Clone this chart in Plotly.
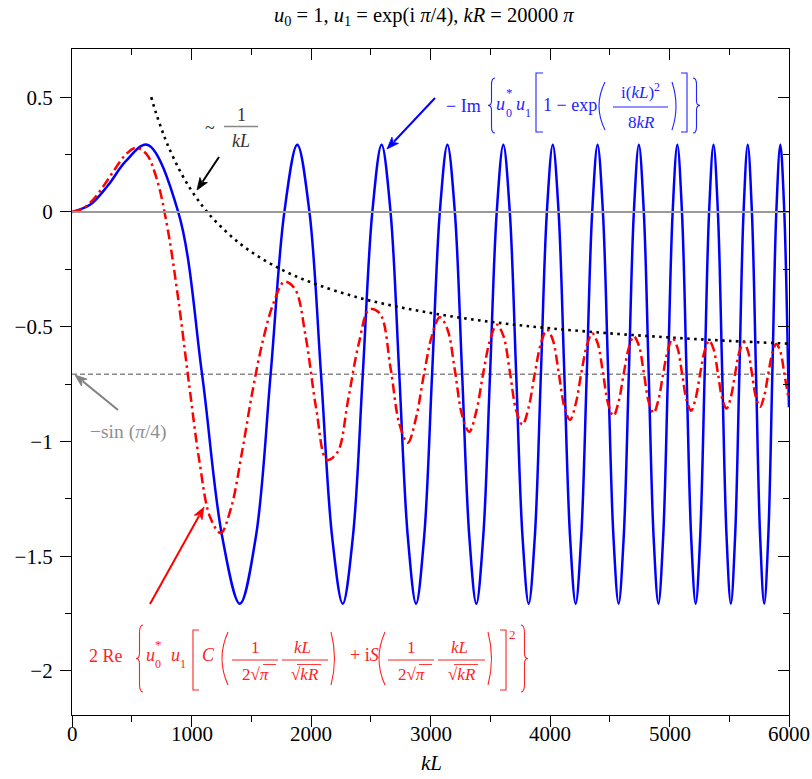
import math
import plotly.graph_objects as go

# ---------------- data ----------------
blue_x = [0, 150, 300, 450, 628.3, 888.6, 1088.3, 1256.6, 1404.9, 1539.0, 1662.3, 1777.1,
          1884.9, 1986.9, 2083.8, 2176.5, 2265.4, 2350.9, 2433.4, 2513.2,
          2590.6, 2665.7, 2738.7, 2809.9, 2879.3, 2947.1, 3013.3, 3078.1,
          3141.5, 3203.8, 3264.8, 3324.7, 3383.6, 3441.4, 3498.3, 3554.3,
          3609.4, 3663.6, 3717.1, 3769.8, 3821.8, 3873.1, 3923.8, 3973.8,
          4023.2, 4071.9, 4120.1, 4167.7, 4214.8, 4261.4, 4307.5, 4353.1,
          4398.1, 4442.8, 4487.0, 4530.8, 4574.2, 4617.1, 4659.6, 4701.8,
          4743.6, 4785.0, 4826.1, 4866.8, 4907.2, 4947.2, 4987.0, 5026.4,
          5065.5, 5104.3, 5142.9, 5181.1, 5219.1, 5256.8, 5294.2, 5331.3,
          5368.2, 5404.9, 5441.3, 5477.4, 5513.3, 5549.0, 5584.5, 5619.7,
          5654.7, 5689.5, 5724.1, 5758.4, 5792.6, 5826.6, 5860.4, 5893.9,
          5927.4, 5960.6, 5993.6, 6000]
blue_y = [0, 0.031, 0.115, 0.221, 0.293, 0, -0.707, -1.414, -1.707, -1.414, -0.707, 0,
          0.293, 0, -0.707, -1.414, -1.707, -1.414, -0.707, 0,
          0.293, 0, -0.707, -1.414, -1.707, -1.414, -0.707, 0,
          0.293, 0, -0.707, -1.414, -1.707, -1.414, -0.707, 0,
          0.293, 0, -0.707, -1.414, -1.707, -1.414, -0.707, 0,
          0.293, 0, -0.707, -1.414, -1.707, -1.414, -0.707, 0,
          0.293, 0, -0.707, -1.414, -1.707, -1.414, -0.707, 0,
          0.293, 0, -0.707, -1.414, -1.707, -1.414, -0.707, 0,
          0.293, 0, -0.707, -1.414, -1.707, -1.414, -0.707, 0,
          0.293, 0, -0.707, -1.414, -1.707, -1.414, -0.707, 0,
          0.293, 0, -0.707, -1.414, -1.707, -1.414, -0.707, 0,
          0.293, 0, -0.707, -0.851]

red_x = [0, 88.9, 177.7, 266.6, 355.4, 444.3, 533.2, 622.0, 710.9, 799.7, 888.6,
         977.5, 1066.3, 1155.2, 1244.0, 1332.9, 1421.8, 1510.6, 1599.5, 1688.3,
         1777.2, 1866.1, 1954.9, 2043.8, 2132.6, 2221.5, 2310.4, 2399.2, 2488.1,
         2576.9, 2665.8,
         2738.7, 2809.9, 2879.3, 2947.1, 3013.3, 3078.1,
         3141.5, 3203.8, 3264.8, 3324.7, 3383.6, 3441.4, 3498.3, 3554.3,
         3609.4, 3663.6, 3717.1, 3769.8, 3821.8, 3873.1, 3923.8, 3973.8,
         4023.2, 4071.9, 4120.1, 4167.7, 4214.8, 4261.4, 4307.5, 4353.1,
         4398.1, 4442.8, 4487.0, 4530.8, 4574.2, 4617.1, 4659.6, 4701.8,
         4743.6, 4785.0, 4826.1, 4866.8, 4907.2, 4947.2, 4987.0, 5026.4,
         5065.5, 5104.3, 5142.9, 5181.1, 5219.1, 5256.8, 5294.2, 5331.3,
         5368.2, 5404.9, 5441.3, 5477.4, 5513.3, 5549.0, 5584.5, 5619.7,
         5654.7, 5689.5, 5724.1, 5758.4, 5792.6, 5826.6, 5860.4, 5893.9,
         5927.4, 5960.6, 5993.6, 6000]
red_y = [0, 0.014, 0.054, 0.115, 0.184, 0.247, 0.279, 0.253, 0.141, -0.071, -0.378,
         -0.741, -1.087, -1.329, -1.399, -1.286, -1.049, -0.781, -0.556, -0.394,
         -0.304, -0.336, -0.541, -0.858, -1.080, -1.047, -0.819, -0.575, -0.425,
         -0.443, -0.680,
         -0.922, -1.006, -0.896, -0.702, -0.537, -0.459,
         -0.511, -0.690, -0.887, -0.958, -0.868, -0.702, -0.558, -0.491,
         -0.539, -0.695, -0.865, -0.927, -0.850, -0.703, -0.573, -0.513,
         -0.557, -0.697, -0.849, -0.906, -0.837, -0.704, -0.584, -0.529,
         -0.571, -0.699, -0.837, -0.889, -0.827, -0.704, -0.592, -0.542,
         -0.582, -0.700, -0.828, -0.876, -0.819, -0.704, -0.600, -0.552,
         -0.590, -0.701, -0.820, -0.866, -0.812, -0.704, -0.605, -0.561,
         -0.597, -0.702, -0.814, -0.857, -0.807, -0.705, -0.610, -0.568,
         -0.603, -0.703, -0.809, -0.849, -0.802, -0.705, -0.615, -0.575,
         -0.608, -0.703, -0.804, -0.818]

env_x = [663, 700, 750, 800, 900, 1000, 1100, 1200, 1400, 1600, 1800, 2000,
         2400, 2800, 3200, 3600, 4000, 4500, 5000, 5500, 6000]
env_y = [0.500, 0.436, 0.360, 0.293, 0.182, 0.093, 0.020, -0.040, -0.136, -0.207,
         -0.263, -0.307, -0.374, -0.421, -0.457, -0.485, -0.507, -0.529, -0.547,
         -0.562, -0.574]

ref_x = [0, 6000]
zero_y = [0, 0]
sin_y = [-0.7071, -0.7071]

x_ticks = [0, 1000, 2000, 3000, 4000, 5000, 6000]
x_ticktext = ["0", "1000", "2000", "3000", "4000", "5000", "6000"]
y_ticks = [-2, -1.5, -1, -0.5, 0, 0.5]
y_ticktext = ["\u22122", "\u22121.5", "\u22121", "\u22120.5", "0", "0.5"]

# ---------------- figure ----------------
SERIF = "Liberation Serif, Times New Roman, serif"
W, H = 812, 779
L, R, T, B = 72, 789, 49, 715  # plot frame in pixels
X_RANGE = [0, 6000]
Y_RANGE = [-2.192, 0.71]

BLUE = "#0000ff"
RED = "#ff0000"
BLUE_T = "rgb(35,35,255)"
RED_T = "rgb(255,35,35)"
GRAY_T = "#8f8f8f"


def px(x):
    return (x - L) / (R - L)


def py(y):
    return (B - y) / (B - T)


fig = go.Figure()
fig.add_trace(go.Scatter(x=ref_x, y=zero_y, mode="lines", xaxis="x2", yaxis="y2",
                         line=dict(color="#9a9a9a", width=2), hoverinfo="skip"))
fig.add_trace(go.Scatter(x=ref_x, y=sin_y, mode="lines",
                         line=dict(color="#8a8a8a", width=1.5, dash="5px,3px"), hoverinfo="skip"))
fig.add_trace(go.Scatter(x=blue_x, y=blue_y, mode="lines",
                         line=dict(color=BLUE, width=2.5, shape="spline", smoothing=1)))
fig.add_trace(go.Scatter(x=env_x, y=env_y, mode="lines",
                         line=dict(color="black", width=2.6, dash="2.6px,4.4px", shape="spline")))
fig.add_trace(go.Scatter(x=red_x, y=red_y, mode="lines",
                         line=dict(color=RED, width=2.5, dash="10px,4px,2.5px,4px",
                                   shape="spline", smoothing=1)))

ann = []
shapes = []


def txt(s, x, y, color, size=18, anchor="center"):
    ann.append(dict(text=s, x=px(x), y=py(y), xref="paper", yref="paper", showarrow=False,
                    font=dict(family=SERIF, size=size, color=color),
                    xanchor=anchor, yanchor="middle"))


def path(d, color, width=1.1, fill=None):
    s = dict(type="path", path=d, xref="paper", yref="paper",
             line=dict(color=color, width=width))
    if fill:
        s["fillcolor"] = fill
    shapes.append(s)


def P(x, y):
    return f"{px(x):.5f},{py(y):.5f}"


def lbrace(x, y0, y1, w, color):
    ym = (y0 + y1) / 2
    h = y1 - y0
    xm = x + w / 2
    d = (f"M {P(x + w, y0)} Q {P(xm, y0)} {P(xm, y0 + h * 0.12)} L {P(xm, ym - h * 0.08)} "
         f"Q {P(xm, ym)} {P(x, ym)} Q {P(xm, ym)} {P(xm, ym + h * 0.08)} "
         f"L {P(xm, y1 - h * 0.12)} Q {P(xm, y1)} {P(x + w, y1)}")
    path(d, color)


def rbrace(x, y0, y1, w, color):
    ym = (y0 + y1) / 2
    h = y1 - y0
    xm = x + w / 2
    d = (f"M {P(x, y0)} Q {P(xm, y0)} {P(xm, y0 + h * 0.12)} L {P(xm, ym - h * 0.08)} "
         f"Q {P(xm, ym)} {P(x + w, ym)} Q {P(xm, ym)} {P(xm, ym + h * 0.08)} "
         f"L {P(xm, y1 - h * 0.12)} Q {P(xm, y1)} {P(x, y1)}")
    path(d, color)


def lbrack(x, y0, y1, w, color):
    path(f"M {P(x + w, y0)} L {P(x, y0)} L {P(x, y1)} L {P(x + w, y1)}", color)


def rbrack(x, y0, y1, w, color):
    path(f"M {P(x, y0)} L {P(x + w, y0)} L {P(x + w, y1)} L {P(x, y1)}", color)


def lparen(x, y0, y1, w, color):
    ym = (y0 + y1) / 2
    path(f"M {P(x + w, y0)} Q {P(x - w, ym)} {P(x + w, y1)}", color)


def rparen(x, y0, y1, w, color):
    ym = (y0 + y1) / 2
    path(f"M {P(x, y0)} Q {P(x + 2 * w, ym)} {P(x, y1)}", color)


def hline(x0, x1, y, color, width=1.1):
    path(f"M {P(x0, y)} L {P(x1, y)}", color, width)


def arrow(hx, hy, tx, ty, color, width=2.0, head=12, half=4.5):
    dx, dy = hx - tx, hy - ty
    n = math.hypot(dx, dy)
    ux, uy = dx / n, dy / n
    bx, by = hx - ux * head, hy - uy * head
    path(f"M {P(tx, ty)} L {P(bx + ux * 2, by + uy * 2)}", color, width)
    nx, ny = -uy, ux
    tri = (f"M {P(hx, hy)} L {P(bx + nx * half, by + ny * half)} "
           f"L {P(bx + ux * 3, by + uy * 3)} L {P(bx - nx * half, by - ny * half)} Z")
    path(tri, color, 0.8, fill=color)


# title
txt("<i>u</i><sub>0</sub> = 1, <i>u</i><sub>1</sub> = exp(i <i>\u03c0</i>/4), "
    "<i>kR</i> = 20000 <i>\u03c0</i>", 424, 17, "black", 20.5)

# blue formula
c = BLUE_T
txt("\u2212 Im", 463, 106, c, 18)
lbrace(488, 78, 133, 7, c)
txt("<i>u</i>", 501, 104, c, 18)
txt("*", 509, 92, c, 13)
txt("0", 509, 113, c, 12)
txt("<i>u</i>", 520, 104, c, 18)
txt("1", 528, 113, c, 12)
lbrack(536, 73, 132, 7, c)
txt("1 \u2212 exp", 570, 105, c, 18)
lparen(599, 82, 130, 6, c)
txt("i(<i>kL</i>)<sup>2</sup>", 640, 91, c, 17)
hline(613, 668, 107, c)
txt("8<i>kR</i>", 641, 122, c, 17)
rparen(672, 82, 130, 4, c)
rbrack(681, 73, 132, 6, c)
rbrace(693, 78, 133, 7, c)

# red formula
c = RED_T
txt("2 Re", 106, 656, c, 18)
lbrace(136, 625, 692, 7, c)
txt("<i>u</i>", 150, 655, c, 18)
txt("*", 158, 644, c, 13)
txt("0", 158, 664, c, 12)
txt("<i>u</i>", 175, 655, c, 18)
txt("1", 183, 664, c, 12)
lbrack(193, 630, 690, 6, c)
txt("<i>C</i>", 208, 655, c, 18)
lparen(222, 632, 685, 6, c)
txt("1", 255, 647, c, 17)
hline(232, 278, 660, c)
txt("2\u221a<i>\u03c0</i>", 255, 674, c, 17)
hline(263, 276, 664.5, c, 0.9)
txt("<i>kL</i>", 302, 647, c, 17)
hline(282, 328, 660, c)
txt("\u221a<i>kR</i>", 305, 674, c, 17)
hline(297, 321, 664.5, c, 0.9)
rparen(331, 632, 685, 3.5, c)
txt("+ i<i>S</i>", 364, 655, c, 18)
lparen(379, 632, 685, 6, c)
txt("1", 411, 647, c, 17)
hline(388, 434, 660, c)
txt("2\u221a<i>\u03c0</i>", 411, 674, c, 17)
hline(419, 432, 664.5, c, 0.9)
txt("<i>kL</i>", 459, 647, c, 17)
hline(438, 485, 660, c)
txt("\u221a<i>kR</i>", 462, 674, c, 17)
hline(454, 478, 664.5, c, 0.9)
rparen(488, 632, 685, 3.5, c)
rbrack(500, 630, 690, 6, c)
txt("2", 512, 634, c, 13)
rbrace(521, 625, 692, 7, c)

# 1/kL label
txt("~", 210, 128, "#333333", 18)
txt("1", 241, 115, "#333333", 18)
hline(224, 258, 126.5, "#888888", 1.3)
txt("<i>kL</i>", 241, 141, "#333333", 18)

# -sin(pi/4) label
txt("\u2212sin (<i>\u03c0</i>/4)", 128, 432, GRAY_T, 19.5)

arrow(197, 190, 219, 157, "black")
arrow(387, 149, 435, 98, BLUE)
arrow(204, 507, 150, 604, RED)
arrow(75, 375, 118, 410, "#808080")

# x tick labels (placed through the x axis scale)
for v, s in zip(x_ticks, x_ticktext):
    ann.append(dict(text=s, x=v, xref="x", y=py(734), yref="paper", showarrow=False,
                    font=dict(family=SERIF, size=21, color="black"),
                    xanchor="center", yanchor="middle"))

# x-axis title
txt("<i>kL</i>", 431, 763, "black", 21)

axis_common = dict(showgrid=False, zeroline=False, tickcolor="black", tickwidth=1.2,
                   automargin=False)

fig.update_layout(
    width=W, height=H,
    margin=dict(l=L, r=W - R, t=T, b=H - B, autoexpand=False),
    paper_bgcolor="white", plot_bgcolor="white",
    showlegend=False,
    hovermode=False,
    font=dict(family=SERIF, size=20, color="black"),
    xaxis=dict(range=X_RANGE, tickvals=x_ticks, ticks="outside", ticklen=11,
               showticklabels=False,
               showline=True, linecolor="black", linewidth=1.2, mirror=True,
               minor=dict(dtick=500, ticks="outside", ticklen=6, tickcolor="black", tickwidth=1.2),
               **axis_common),
    yaxis=dict(range=Y_RANGE, tickvals=y_ticks, ticktext=y_ticktext, ticks="outside",
               ticklen=11, showline=True, linecolor="black", linewidth=1.2, mirror=True,
               minor=dict(dtick=0.25, ticks="outside", ticklen=6, tickcolor="black", tickwidth=1.2),
               tickfont=dict(family=SERIF, size=21), ticklabelstandoff=3,
               **axis_common),
    xaxis2=dict(range=X_RANGE, overlaying="x", side="top", anchor="y2", tickvals=x_ticks,
                ticks="inside", ticklen=11, showticklabels=False,
                minor=dict(dtick=500, ticks="inside", ticklen=6, tickcolor="black", tickwidth=1.2),
                **axis_common),
    yaxis2=dict(range=Y_RANGE, overlaying="y", side="right", anchor="x2", tickvals=y_ticks,
                ticks="inside", ticklen=11, showticklabels=False,
                minor=dict(dtick=0.25, ticks="inside", ticklen=6, tickcolor="black", tickwidth=1.2),
                **axis_common),
    annotations=ann,
    shapes=shapes,
)

fig.write_html("out.html", config={"displayModeBar": False},
               post_script="document.body.style.margin='0px';")
